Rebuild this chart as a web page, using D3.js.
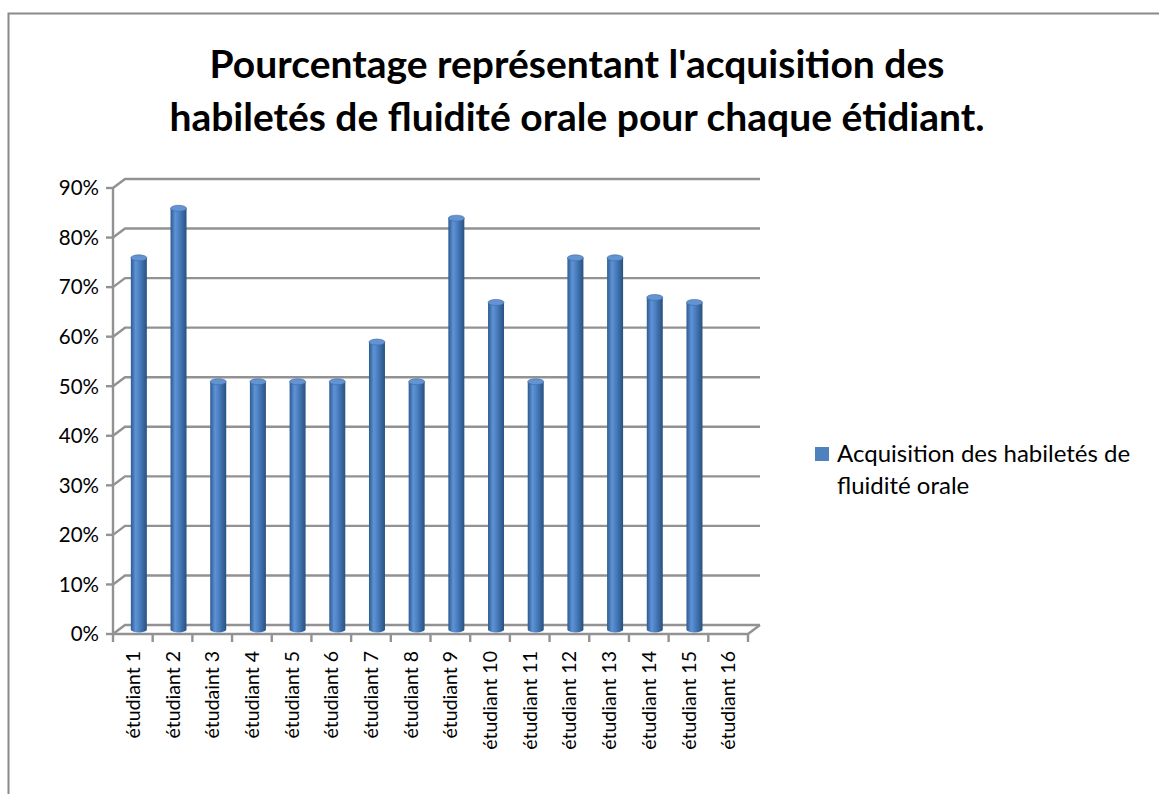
<!DOCTYPE html>
<html>
  <head>
    <meta charset="utf-8" />
    <title>Fluidité orale</title>
    <script src="https://d3js.org/d3.v7.min.js"></script>
    <style>
      body { margin: 0; background: #fff; }
      svg text { font-family: Lato, "Open Sans", sans-serif; fill: #000; }
    </style>
  </head>

  <body>
    <svg id="plot" width="1159" height="794"></svg>

    <script>
      // data
      var students = ["étudiant 1", "étudiant 2", "étudaint 3", "étudiant 4", "étudiant 5", "étudiant 6",
        "étudiant 7", "étudiant 8", "étudiant 9", "étudiant 10", "étudiant 11", "étudiant 12",
        "étudiant 13", "étudiant 14", "étudiant 15", "étudiant 16"];
      var values = [0.75, 0.85, 0.50, 0.50, 0.50, 0.50, 0.58, 0.50, 0.83, 0.66, 0.50, 0.75, 0.75, 0.67, 0.66, null];
      var yTicks = [0, 0.1, 0.2, 0.3, 0.4, 0.5, 0.6, 0.7, 0.8, 0.9];
      var titleLines = ["Pourcentage représentant l'acquisition des", "habiletés de fluidité orale pour chaque étidiant."];
      var legendLines = ["Acquisition des habiletés de", "fluidité orale"];

      const svg = d3.select("#plot");
      var depthX = 12, depthY = -9; // fake 3d depth
      var gridColor = "#929292";

      var x = d3.scaleBand().domain(students).range([113, 748]);
      var y = d3.scaleLinear().domain([0, 0.9]).range([634, 188]);

      // outer frame
      svg.append("rect").attr("x", 8.5).attr("y", 13.5).attr("width", 1200).attr("height", 900)
        .attr("fill", "none").attr("stroke", "#8a8a8a").attr("stroke-width", 2);

      // title
      svg.selectAll("text.title").data(titleLines).join("text")
        .attr("class", "title")
        .attr("x", 577).attr("y", (d, i) => 78 + i * 53)
        .attr("text-anchor", "middle")
        .style("font-size", "39px").style("font-weight", "bold")
        .text((d) => d);

      // back wall gridlines + left side diagonals
      var grid = svg.append("g");
      grid.selectAll("path").data(yTicks).join("path")
        .attr("d", (d) => "M113," + y(d) + "L" + (113 + depthX) + "," + (y(d) + depthY) + "H760")
        .attr("fill", "none").attr("stroke", gridColor).attr("stroke-width", 2.4);

      // front y axis
      svg.append("line").attr("x1", 113).attr("x2", 113).attr("y1", y(0.9)).attr("y2", y(0))
        .attr("stroke", gridColor).attr("stroke-width", 2.4);
      svg.append("g").selectAll("line").data(yTicks).join("line")
        .attr("x1", 106).attr("x2", 113).attr("y1", (d) => y(d)).attr("y2", (d) => y(d))
        .attr("stroke", gridColor).attr("stroke-width", 2.4);
      svg.append("g").selectAll("text").data(yTicks).join("text")
        .attr("x", 99).attr("y", (d) => y(d)).attr("dy", "0.36em")
        .attr("text-anchor", "end").style("font-size", "20.5px")
        .text((d) => d3.format(".0%")(d));

      // floor front edge + right diagonal
      svg.append("path")
        .attr("d", "M113," + y(0) + "H748L760," + (y(0) + depthY))
        .attr("fill", "none").attr("stroke", gridColor).attr("stroke-width", 2.4);
      var bounds = students.map((s) => x(s)).concat([748]);
      svg.append("g").selectAll("line").data(bounds).join("line")
        .attr("x1", (d) => d).attr("x2", (d) => d).attr("y1", y(0)).attr("y2", y(0) + 8)
        .attr("stroke", gridColor).attr("stroke-width", 2.4);

      // cylinder gradient
      var defs = svg.append("defs");
      var grad = defs.append("linearGradient").attr("id", "cyl").attr("x1", "0").attr("x2", "1");
      grad.append("stop").attr("offset", "0%").attr("stop-color", "#2d5a90");
      grad.append("stop").attr("offset", "30%").attr("stop-color", "#5e93d6");
      grad.append("stop").attr("offset", "55%").attr("stop-color", "#4a7ec0");
      grad.append("stop").attr("offset", "100%").attr("stop-color", "#28517f");

      var r = 8, ry = 3;
      var bars = students.map((s, i) => ({ name: s, v: values[i] })).filter((d) => d.v != null);
      var barY = (v) => y(v) + depthY / 2;
      var cx = (d) => x(d.name) + x.bandwidth() / 2 + depthX / 2;

      var g = svg.append("g").selectAll("g").data(bars).join("g");
      g.append("path")
        .attr("d", (d) => {
          var top = barY(d.v), bot = barY(0);
          return "M" + (cx(d) - r) + "," + top + "V" + bot +
            "A" + r + "," + ry + " 0 0 0 " + (cx(d) + r) + "," + bot +
            "V" + top + "Z";
        })
        .attr("fill", "url(#cyl)");
      g.append("ellipse")
        .attr("cx", cx).attr("cy", (d) => barY(d.v)).attr("rx", r).attr("ry", ry)
        .attr("fill", "#6393d0").attr("stroke", "#3d6aa5").attr("stroke-width", 0.6);

      // category labels
      svg.append("g").selectAll("text").data(students).join("text")
        .attr("transform", (d) => "translate(" + (x(d) + x.bandwidth() / 2) + ",651) rotate(-90)")
        .attr("text-anchor", "end").attr("dy", "0.36em")
        .style("font-size", "19.5px")
        .text((d) => d);

      // legend
      svg.append("rect").attr("x", 815).attr("y", 447).attr("width", 14).attr("height", 14)
        .attr("fill", "#4f81bd");
      svg.selectAll("text.leg").data(legendLines).join("text")
        .attr("class", "leg")
        .attr("x", 837).attr("y", (d, i) => 462 + i * 32)
        .style("font-size", "24px")
        .text((d) => d);
    </script>
  </body>
</html>
